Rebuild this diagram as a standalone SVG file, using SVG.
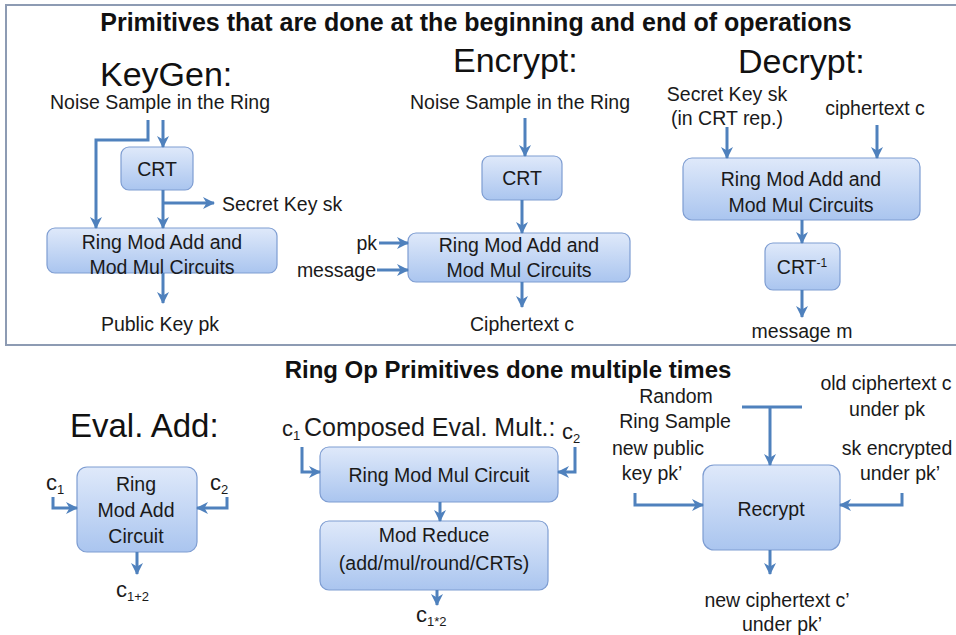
<svg xmlns="http://www.w3.org/2000/svg" width="956" height="635" viewBox="0 0 956 635">
<defs>
<linearGradient id="boxg" x1="0" y1="0" x2="0" y2="1">
<stop offset="0" stop-color="#dfe9fa"/>
<stop offset="1" stop-color="#aac5ef"/>
</linearGradient>
<marker id="ah" viewBox="0 0 12 12" refX="11" refY="6" markerWidth="4" markerHeight="4" markerUnits="strokeWidth" orient="auto">
<path d="M0,0 L12,6 L0,12 L3.5,6 z" fill="#4f81bd"/>
</marker>
<style>
.box{fill:url(#boxg);stroke:#7e9dd2;stroke-width:1.2}
.t{font-family:"Liberation Sans",Arial,sans-serif;font-size:19.5px;fill:#1a1a1a}
.c{text-anchor:middle}
.h{font-family:"Liberation Sans",Arial,sans-serif;font-size:34px;fill:#111}
.b{font-family:"Liberation Sans",Arial,sans-serif;font-weight:bold;fill:#111}
.ci{font-family:"Liberation Sans",Arial,sans-serif;font-size:22px;fill:#1a1a1a}
.sub{font-size:13px}
.conn path{fill:none;stroke:#4f81bd;stroke-width:3}
</style>
</defs>
<rect x="0" y="0" width="956" height="635" fill="#ffffff"/>
<rect x="6" y="5" width="960" height="340" fill="#ffffff" stroke="#8d9bb3" stroke-width="2"/>

<text class="b" x="476" y="31" font-size="25" text-anchor="middle">Primitives that are done at the beginning and end of operations</text>
<text class="b" x="508" y="378" font-size="24" text-anchor="middle">Ring Op Primitives done multiple times</text>

<g id="keygen">
<text class="h" x="100" y="86">KeyGen:</text>
<text class="t c" x="160" y="109">Noise Sample in the Ring</text>
<text class="t" x="222" y="211">Secret Key sk</text>
<text class="t c" x="160" y="331">Public Key pk</text>
</g>
<g id="kg-crt">
<rect class="box" x="121" y="147" width="72" height="43" rx="8"/>
<text class="t c" x="157" y="176">CRT</text>
</g>
<g id="kg-ring">
<rect class="box" x="47" y="228" width="230" height="45" rx="8"/>
<text class="t c" x="162" y="249">Ring Mod Add and</text>
<text class="t c" x="162" y="274">Mod Mul Circuits</text>
</g>

<g id="encrypt">
<text class="h" x="453" y="72">Encrypt:</text>
<text class="t c" x="520" y="109">Noise Sample in the Ring</text>
<text class="t" x="377" y="250" text-anchor="end">pk</text>
<text class="t" x="376" y="277" text-anchor="end">message</text>
<text class="t c" x="522" y="331">Ciphertext c</text>
</g>
<g id="enc-crt">
<rect class="box" x="482" y="156" width="80" height="44" rx="8"/>
<text class="t c" x="522" y="185">CRT</text>
</g>
<g id="enc-ring">
<rect class="box" x="408" y="233" width="222" height="49" rx="8"/>
<text class="t c" x="519" y="252">Ring Mod Add and</text>
<text class="t c" x="519" y="277">Mod Mul Circuits</text>
</g>

<g id="decrypt">
<text class="h" x="738" y="73">Decrypt:</text>
<text class="t c" x="727" y="101">Secret Key sk</text>
<text class="t c" x="727" y="125">(in CRT rep.)</text>
<text class="t c" x="875" y="115">ciphertext c</text>
<text class="t c" x="802" y="338">message m</text>
</g>
<g id="dec-ring">
<rect class="box" x="683" y="158" width="237" height="62" rx="9"/>
<text class="t c" x="801" y="186">Ring Mod Add and</text>
<text class="t c" x="801" y="212">Mod Mul Circuits</text>
</g>
<g id="dec-crtinv">
<rect class="box" x="765" y="243" width="75" height="47" rx="8"/>
<text class="t c" x="802" y="274">CRT<tspan font-size="12" dy="-7">-1</tspan></text>
</g>

<g id="evaladd">
<text class="h" x="70" y="437" style="font-size:33px">Eval. Add:</text>
<text class="ci" x="46" y="490">c<tspan class="sub" dy="4">1</tspan></text>
<text class="ci" x="210" y="490">c<tspan class="sub" dy="4">2</tspan></text>
<text class="ci" x="116" y="597">c<tspan class="sub" dy="4">1+2</tspan></text>
</g>
<g id="ea-box">
<rect class="box" x="77" y="467" width="120" height="85" rx="10"/>
<text class="t c" x="136" y="491">Ring</text>
<text class="t c" x="136" y="517">Mod Add</text>
<text class="t c" x="136" y="543">Circuit</text>
</g>

<g id="evalmult">
<text class="ci" x="282" y="436">c<tspan class="sub" dy="4">1</tspan></text>
<text class="t" x="304" y="436" style="font-size:25px">Composed Eval. Mult.:</text>
<text class="ci" x="562" y="439">c<tspan class="sub" dy="4">2</tspan></text>
<text class="ci" x="416" y="622">c<tspan class="sub" dy="4">1*2</tspan></text>
</g>
<g id="em-mul">
<rect class="box" x="320" y="447" width="238" height="55" rx="9"/>
<text class="t c" x="439" y="482">Ring Mod Mul Circuit</text>
</g>
<g id="em-red">
<rect class="box" x="320" y="521" width="228" height="69" rx="9"/>
<text class="t c" x="434" y="542">Mod Reduce</text>
<text class="t c" x="434" y="570">(add/mul/round/CRTs)</text>
</g>

<g id="recrypt-labels">
<text class="t c" x="676" y="403">Random</text>
<text class="t c" x="675" y="428">Ring Sample</text>
<text class="t c" x="886" y="390">old ciphertext c</text>
<text class="t c" x="887" y="416">under pk</text>
<text class="t c" x="658" y="455">new public</text>
<text class="t c" x="652" y="480">key pk’</text>
<text class="t c" x="897" y="455">sk encrypted</text>
<text class="t c" x="900" y="480">under pk’</text>
<text class="t c" x="777" y="607">new ciphertext c’</text>
<text class="t c" x="782" y="631">under pk’</text>
</g>
<g id="recrypt">
<rect class="box" x="703" y="465" width="137" height="85" rx="11"/>
<text class="t c" x="771" y="516">Recrypt</text>
</g>

<g id="connectors" class="conn">
<path d="M163,120 V147" marker-end="url(#ah)"/>
<path d="M148,120 V140 H96 V228" marker-end="url(#ah)"/>
<path d="M163,190 V228" marker-end="url(#ah)"/>
<path d="M163,203 H214" marker-end="url(#ah)"/>
<path d="M163,273 V303" marker-end="url(#ah)"/>

<path d="M525,118 V156" marker-end="url(#ah)"/>
<path d="M522,200 V233" marker-end="url(#ah)"/>
<path d="M379,243 H408" marker-end="url(#ah)"/>
<path d="M377,270 H408" marker-end="url(#ah)"/>
<path d="M522,282 V307" marker-end="url(#ah)"/>

<path d="M727,127 V158" marker-end="url(#ah)"/>
<path d="M877,125 V158" marker-end="url(#ah)"/>
<path d="M802,220 V243" marker-end="url(#ah)"/>
<path d="M802,290 V317" marker-end="url(#ah)"/>

<path d="M53,497 V508 H77" marker-end="url(#ah)"/>
<path d="M227,497 V508 H197" marker-end="url(#ah)"/>
<path d="M137,552 V574" marker-end="url(#ah)"/>

<path d="M302,447 V472 H320" marker-end="url(#ah)"/>
<path d="M575,447 V472 H558" marker-end="url(#ah)"/>
<path d="M440,502 V521" marker-end="url(#ah)"/>
<path d="M437,590 V605" marker-end="url(#ah)"/>

<path d="M742,407 H802"/>
<path d="M770,407 V465" marker-end="url(#ah)"/>
<path d="M635,493 V505 H703" marker-end="url(#ah)"/>
<path d="M902,493 V505 H840" marker-end="url(#ah)"/>
<path d="M770,550 V574" marker-end="url(#ah)"/>
</g>
</svg>
